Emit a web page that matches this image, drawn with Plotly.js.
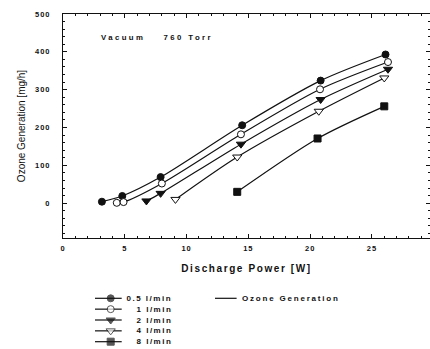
<!DOCTYPE html>
<html><head><meta charset="utf-8">
<script src="https://cdn.plot.ly/plotly-3.0.1.min.js"></script>
<style>
html,body{margin:0;padding:0;background:#fff;overflow:hidden}
#chart .xtick text,#chart .ytick text{letter-spacing:1px}
#chart .g-xtitle text{letter-spacing:1.6px}
#chart .annotation-text{letter-spacing:1.5px}
#chart .annotation[data-index="0"] .annotation-text{letter-spacing:2.4px}
#chart .annotation[data-index="6"] .annotation-text{letter-spacing:1.8px}
</style></head><body><div id="chart" style="width:430px;height:349px"></div>
<script>
// ---- data ----
const seriesNames = ['0.5 l/min', '1 l/min', '2 l/min', '4 l/min', '8 l/min'];
const power05 = [3.15, 4.8, 7.9, 14.5, 20.85, 26.1];
const ozone05 = [4, 19, 69, 206, 324, 393];
const power1 = [4.35, 4.9, 8.0, 14.4, 20.8, 26.3];
const ozone1 = [1, 3, 52, 182, 301, 373];
const power2 = [6.75, 7.9, 14.4, 20.85, 26.3];
const ozone2 = [6, 26, 156, 274, 354];
const power4 = [9.1, 14.1, 20.7, 26.0];
const ozone4 = [10, 122, 243, 331];
const power8 = [14.1, 20.6, 26.0];
const ozone8 = [30, 171, 256];
const xTickVals = [0, 5, 10, 15, 20, 25, 30];
const yTickVals = [0, 100, 200, 300, 400, 500];
const lineLegendLabel = 'Ozone Generation';
const conditionLabel = 'Vacuum\u00a0\u00a0\u00a0\u00a0760 Torr';

// ---- styles ----
const FONT = 'Liberation Sans, Arial, sans-serif';
const INK = '#111';
const powers = [power05, power1, power2, power4, power8];
const ozones = [ozone05, ozone1, ozone2, ozone4, ozone8];
const symbols = ['circle', 'circle', 'triangle-down', 'triangle-down', 'square'];
const fills = [INK, '#fff', INK, '#fff', INK];
const msize = [7, 7, 8, 8, 7];

const traces = [];
powers.forEach((px, i) => {
  traces.push({
    x: px, y: ozones[i], type: 'scatter', mode: 'lines+markers',
    line: {color: INK, width: 1.2, shape: 'spline', smoothing: 0.8},
    marker: {symbol: symbols[i], size: msize[i], color: fills[i], line: {color: INK, width: 1}},
    name: seriesNames[i], showlegend: false, xaxis: 'x', yaxis: 'y'
  });
});

// legend samples on a hidden helper axis
const legX0 = 2.59, legXm = 3.86, legX1 = 4.75, legTextRight = 9.0;
const ozX0 = 12.3, ozX1 = 14.05, ozText = 14.32;
const annotations = [{
  xref: 'x', yref: 'y', x: 2.91, y: 437, xanchor: 'left', yanchor: 'middle', align: 'left',
  text: conditionLabel, showarrow: false,
  font: {family: FONT, size: 7.8, color: INK, weight: 'bold'}
}];
seriesNames.forEach((nm, i) => {
  traces.push({
    x: [legX0, legXm, legX1], y: [i, i, i], type: 'scatter', mode: 'lines+markers',
    line: {color: INK, width: 1.2},
    marker: {symbol: symbols[i], size: [0, msize[i], 0], color: fills[i], line: {color: INK, width: 1}},
    showlegend: false, hoverinfo: 'skip', xaxis: 'x2', yaxis: 'y2'
  });
  annotations.push({
    xref: 'x2', yref: 'y2', x: legTextRight, y: i, xanchor: 'right', yanchor: 'middle', align: 'right',
    text: nm, showarrow: false,
    font: {family: FONT, size: 8, color: INK, weight: 'bold'}
  });
});
traces.push({
  x: [ozX0, ozX1], y: [0, 0], type: 'scatter', mode: 'lines',
  line: {color: INK, width: 1.2}, showlegend: false, hoverinfo: 'skip', xaxis: 'x2', yaxis: 'y2'
});
annotations.push({
  xref: 'x2', yref: 'y2', x: ozText, y: 0, xanchor: 'left', yanchor: 'middle', align: 'left',
  text: lineLegendLabel, showarrow: false,
  font: {family: FONT, size: 8, color: INK, weight: 'bold'}
});

const tickFont = {family: FONT, size: 7.5, color: INK, weight: 'bold'};
const layout = {
  width: 430, height: 349,
  margin: {l: 63, r: 0, t: 14, b: 0, pad: 0},
  paper_bgcolor: '#fff', plot_bgcolor: '#fff',
  showlegend: false,
  xaxis: {
    domain: [0, 1], range: [0, 29.7], anchor: 'y',
    tickvals: xTickVals, ticks: 'inside', ticklen: 4, tickcolor: INK, tickwidth: 1,
    minor: {dtick: 1, ticks: 'inside', ticklen: 2, tickcolor: INK},
    showline: true, linecolor: INK, linewidth: 1, mirror: 'ticks',
    showgrid: false, zeroline: false, tickfont: tickFont, ticklabelstandoff: 3,
    title: {text: 'Discharge Power [W]', font: {family: FONT, size: 10, color: INK, weight: 'bold'}, standoff: 12},
    automargin: false
  },
  yaxis: {
    domain: [0.3313, 1], range: [-92, 500], anchor: 'x',
    tickvals: yTickVals, ticks: 'inside', ticklen: 4, tickcolor: INK, tickwidth: 1,
    minor: {dtick: 20, ticks: 'inside', ticklen: 2, tickcolor: INK},
    showline: true, linecolor: INK, linewidth: 1, mirror: 'ticks',
    showgrid: false, zeroline: false, tickfont: tickFont, ticklabelstandoff: 10,
    title: {text: 'Ozone Generation [mg/h]', font: {family: FONT, size: 10, color: INK}, standoff: 10},
    automargin: false
  },
  xaxis2: {domain: [0, 1], range: [0, 29.7], anchor: 'y2', visible: false, fixedrange: true},
  yaxis2: {domain: [0, 0.17], range: [4.673, -0.576], anchor: 'x2', visible: false, fixedrange: true},
  annotations: annotations
};
Plotly.newPlot('chart', traces, layout, {displayModeBar: false, staticPlot: true});
</script></body></html>
